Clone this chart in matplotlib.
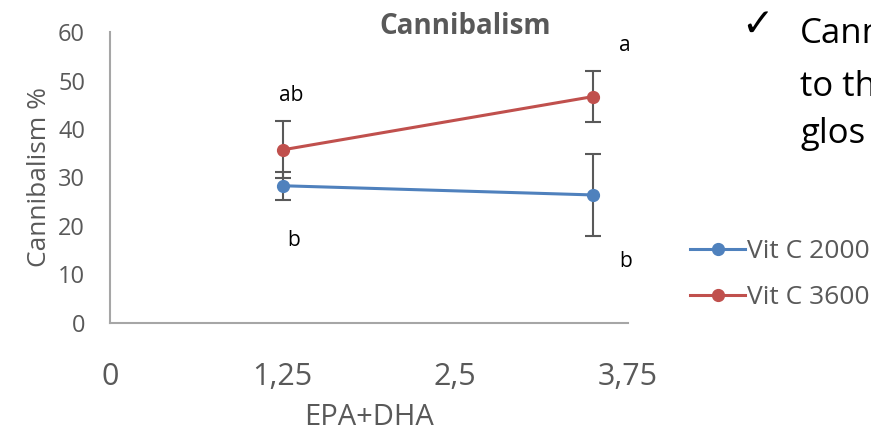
import matplotlib
matplotlib.use('Agg')
import matplotlib.pyplot as plt
from matplotlib.lines import Line2D

plt.rcParams['font.family'] = ['Open Sans', 'DejaVu Sans']

# data
epa_dha = [1.25, 3.5]
vitc2000 = [28.3, 26.4]
vitc2000_err = [2.9, 8.5]
vitc3600 = [35.7, 46.7]
vitc3600_err = [5.9, 5.3]
series_names = ['Vit C 2000', 'Vit C 3600']
x_ticks = [0, 1.25, 2.5, 3.75]
x_ticklabels = ['0', '1,25', '2,5', '3,75']
y_ticks = [0, 10, 20, 30, 40, 50, 60]
# significance letters (x, y, text)
letters = [(1.31, 47.0, 'ab'), (1.33, 17.1, 'b'), (3.73, 57.3, 'a'), (3.73, 12.6, 'b')]
slide_lines = ['Cann', 'to th', 'glos']

GREY = '#595959'
BLUE = '#4F81BD'
RED = '#C0504D'

fig = plt.figure(figsize=(8.71, 4.36), dpi=100)
ax = fig.add_axes([0.1263, 0.2592, 0.5947, 0.6674])

handles = []
for y, err, col, name in [(vitc2000, vitc2000_err, BLUE, series_names[0]),
                          (vitc3600, vitc3600_err, RED, series_names[1])]:
    ax.errorbar(epa_dha, y, yerr=err, color=col, lw=2.2, marker='o', ms=8.5,
                ecolor=GREY, elinewidth=1.5, capsize=6, capthick=1.5)
    handles.append(Line2D([], [], color=col, lw=2.2, marker='o', ms=8.5, label=name))

for x, y, t in letters:
    ax.text(x, y, t, ha='center', va='center', fontsize=15, color='black')

ax.set_xlim(0, 3.75)
ax.set_ylim(0, 60)
ax.set_xticks(x_ticks)
ax.set_xticklabels(x_ticklabels)
ax.set_yticks(y_ticks)
ax.tick_params(length=0, labelcolor=GREY)
ax.tick_params(axis='x', pad=28, labelsize=22)
ax.tick_params(axis='y', pad=18, labelsize=17)
for s in ['top', 'right']:
    ax.spines[s].set_visible(False)
for s in ['left', 'bottom']:
    ax.spines[s].set_color('#A6A6A6')
    ax.spines[s].set_linewidth(1.5)

ax.set_xlabel('EPA+DHA', fontsize=21, color=GREY, labelpad=8)
ax.set_ylabel('Cannibalism %', fontsize=19, color=GREY, labelpad=4)
fig.text(0.534, 0.94, 'Cannibalism', ha='center', va='center', fontsize=20,
         fontweight='bold', color=GREY)

leg = ax.legend(handles=handles, loc='center left', bbox_to_anchor=(0.765, 0.37),
                bbox_transform=fig.transFigure, frameon=False, fontsize=19,
                handlelength=2.1, handletextpad=0.05, labelspacing=0.8)
for t in leg.get_texts():
    t.set_color(GREY)

# slide text cut off on the right, as in the source slide
fig.text(0.87, 1 - 36 / 436, '\u2713', fontsize=28, fontweight='bold', color='black',
         ha='center', va='baseline')
ys = [43, 96, 143]
for line, yy in zip(slide_lines, ys):
    fig.text(800 / 871, 1 - yy / 436, line, fontsize=25, color='black', va='baseline')

fig.savefig('out.png', dpi=100)
